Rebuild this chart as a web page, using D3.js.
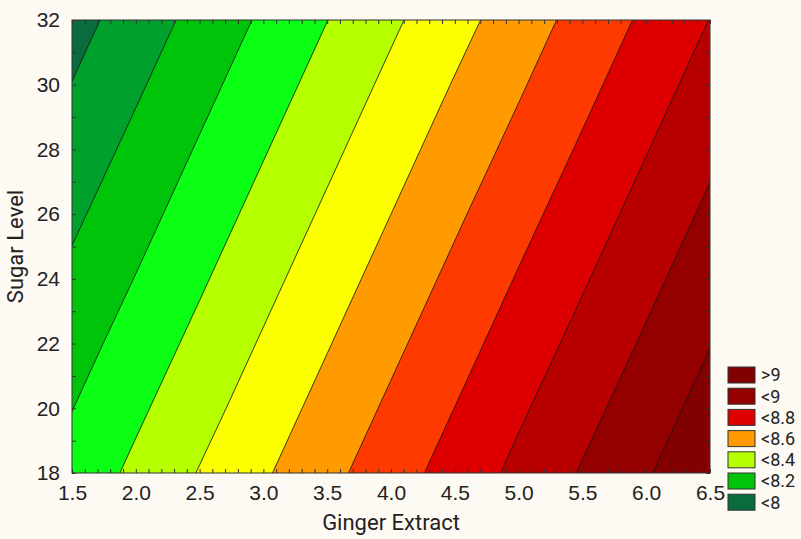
<!DOCTYPE html>
<html>
<head>
<meta charset="utf-8">
<script src="https://cdn.jsdelivr.net/npm/d3@7"></script>
<style>
  html, body { margin: 0; padding: 0; background: #fdf9f3; }
  svg { display: block; font-family: Roboto, "Liberation Sans", sans-serif; }
</style>
</head>
<body>
<svg id="chart" width="801" height="539"></svg>
<script>
// Grid columns: ginger extract
const gingerExtract = [1.5, 2.0, 2.5, 3.0, 3.5, 4.0, 4.5, 5.0, 5.5, 6.0, 6.5];
// Grid rows: sugar level, top row first
const sugarLevel = [32, 30, 28, 26, 24, 22, 20, 18];

// Fitted response at each grid node, one row per sugar level
const respSugar32 = [7.963, 8.047, 8.131, 8.215, 8.299, 8.383, 8.466, 8.550, 8.634, 8.718, 8.802];
const respSugar30 = [8.002, 8.086, 8.170, 8.254, 8.338, 8.422, 8.506, 8.589, 8.673, 8.757, 8.841];
const respSugar28 = [8.042, 8.125, 8.209, 8.293, 8.377, 8.461, 8.545, 8.628, 8.712, 8.796, 8.880];
const respSugar26 = [8.081, 8.164, 8.248, 8.332, 8.416, 8.500, 8.584, 8.668, 8.751, 8.835, 8.919];
const respSugar24 = [8.120, 8.203, 8.287, 8.371, 8.455, 8.539, 8.623, 8.707, 8.790, 8.874, 8.958];
const respSugar22 = [8.159, 8.243, 8.326, 8.410, 8.494, 8.578, 8.662, 8.746, 8.829, 8.913, 8.997];
const respSugar20 = [8.198, 8.282, 8.365, 8.449, 8.533, 8.617, 8.701, 8.785, 8.869, 8.952, 9.036];
const respSugar18 = [8.237, 8.321, 8.405, 8.488, 8.572, 8.656, 8.740, 8.824, 8.908, 8.991, 9.075];

// Contour levels and the fill of each band (lowest band first)
const contourLevels = [8.0, 8.1, 8.2, 8.3, 8.4, 8.5, 8.6, 8.7, 8.8, 8.9, 9.0];
const bandColors = ["#0a6b3c", "#00a02c", "#00c40a", "#0aff14", "#b6ff00", "#fbff00",
                    "#ff9a00", "#ff3a00", "#de0000", "#b80000", "#940000", "#820000"];

// Legend entries (top to bottom) and the band each one shows
const legendLabels = [">9", "<9", "<8.8", "<8.6", "<8.4", "<8.2", "<8"];
const legendBands = [11, 10, 8, 6, 4, 2, 0];

// Axis ticks
const xMajorTicks = [1.5, 2.0, 2.5, 3.0, 3.5, 4.0, 4.5, 5.0, 5.5, 6.0, 6.5];
const yMajorTicks = [18, 20, 22, 24, 26, 28, 30, 32];

const svg = d3.select("#chart");
const plotLeft = 72, plotRight = 710, plotTop = 20, plotBottom = 473;

const x = d3.scaleLinear().domain([1.5, 6.5]).range([plotLeft, plotRight]);
const y = d3.scaleLinear().domain([18, 32]).range([plotBottom, plotTop]);

// Clip for the contour fills
svg.append("defs").append("clipPath").attr("id", "plotClip")
  .append("rect")
  .attr("x", plotLeft).attr("y", plotTop)
  .attr("width", plotRight - plotLeft).attr("height", plotBottom - plotTop);

// Contours over the grid
const nx = gingerExtract.length, ny = sugarLevel.length;
const surfaceRows = [respSugar32, respSugar30, respSugar28, respSugar26,
                     respSugar24, respSugar22, respSugar20, respSugar18];
const values = surfaceRows.flat();
const contours = d3.contours().size([nx, ny]).thresholds(contourLevels)(values);

// Grid space -> data space (sample i sits at i + 0.5)
const gx = d3.scaleLinear().domain([0.5, nx - 0.5]).range([gingerExtract[0], gingerExtract[nx - 1]]);
const gy = d3.scaleLinear().domain([0.5, ny - 0.5]).range([sugarLevel[0], sugarLevel[ny - 1]]);
const gridToScreen = d3.geoTransform({
  point(u, v) { this.stream.point(x(gx(u)), y(gy(v))); }
});
const path = d3.geoPath(gridToScreen);

const plot = svg.append("g").attr("clip-path", "url(#plotClip)");
plot.append("rect")
  .attr("x", plotLeft).attr("y", plotTop)
  .attr("width", plotRight - plotLeft).attr("height", plotBottom - plotTop)
  .attr("fill", bandColors[0]);

plot.selectAll("path.band")
  .data(contours)
  .join("path")
  .attr("class", "band")
  .attr("d", path)
  .attr("fill", (d, i) => bandColors[i + 1]);

plot.selectAll("path.isoline")
  .data(contours)
  .join("path")
  .attr("class", "isoline")
  .attr("d", path)
  .attr("fill", "none")
  .attr("stroke", "#141414")
  .attr("stroke-opacity", 0.9)
  .attr("stroke-width", 0.9);

// Axes with inward ticks
const xMinor = d3.range(15, 66).map(v => v / 10);
const yMinor = d3.range(18, 33);
const tickColor = "#333";

function styleAxis(g) {
  g.select(".domain").remove();
  g.selectAll(".tick line").attr("stroke", tickColor);
  g.selectAll(".tick text").attr("fill", "#222").attr("font-size", 21);
}

svg.append("g").attr("transform", `translate(0,${plotBottom})`)
  .call(d3.axisBottom(x).tickValues(xMinor).tickSize(-4).tickFormat(""))
  .call(styleAxis);
svg.append("g").attr("transform", `translate(0,${plotTop})`)
  .call(d3.axisTop(x).tickValues(xMinor).tickSize(-4).tickFormat(""))
  .call(styleAxis);
svg.append("g").attr("transform", `translate(${plotLeft},0)`)
  .call(d3.axisLeft(y).tickValues(yMinor).tickSize(-4).tickFormat(""))
  .call(styleAxis);
svg.append("g").attr("transform", `translate(${plotRight},0)`)
  .call(d3.axisRight(y).tickValues(yMinor).tickSize(-4).tickFormat(""))
  .call(styleAxis);

// Major tick labels
svg.append("g").attr("transform", `translate(0,${plotBottom})`)
  .call(d3.axisBottom(x).tickValues(xMajorTicks).tickSize(0).tickPadding(12).tickFormat(d3.format(".1f")))
  .call(styleAxis);
svg.append("g").attr("transform", `translate(${plotLeft},0)`)
  .call(d3.axisLeft(y).tickValues(yMajorTicks).tickSize(0).tickPadding(12).tickFormat(d3.format("d")))
  .call(styleAxis);

// Plot frame
svg.append("rect")
  .attr("x", plotLeft).attr("y", plotTop)
  .attr("width", plotRight - plotLeft).attr("height", plotBottom - plotTop)
  .attr("fill", "none").attr("stroke", "#333").attr("stroke-width", 1);

// Axis titles
svg.append("text")
  .attr("x", (plotLeft + plotRight) / 2).attr("y", 530)
  .attr("text-anchor", "middle")
  .attr("font-size", 22).attr("fill", "#222")
  .text("Ginger Extract");
svg.append("text")
  .attr("transform", `translate(23,${(plotTop + plotBottom) / 2}) rotate(-90)`)
  .attr("text-anchor", "middle")
  .attr("font-size", 22).attr("fill", "#222")
  .text("Sugar Level");

// Legend
const legend = svg.append("g").attr("transform", "translate(728,367)");
const rows = legend.selectAll("g")
  .data(legendLabels)
  .join("g")
  .attr("transform", (d, i) => `translate(0,${i * 21.2})`);
rows.append("rect")
  .attr("width", 27).attr("height", 16)
  .attr("fill", (d, i) => bandColors[legendBands[i]])
  .attr("stroke", "#333").attr("stroke-width", 1);
rows.append("text")
  .attr("x", 33).attr("y", 8).attr("dy", "0.35em")
  .attr("font-size", 18).attr("fill", "#222")
  .text(d => d);
</script>
</body>
</html>
